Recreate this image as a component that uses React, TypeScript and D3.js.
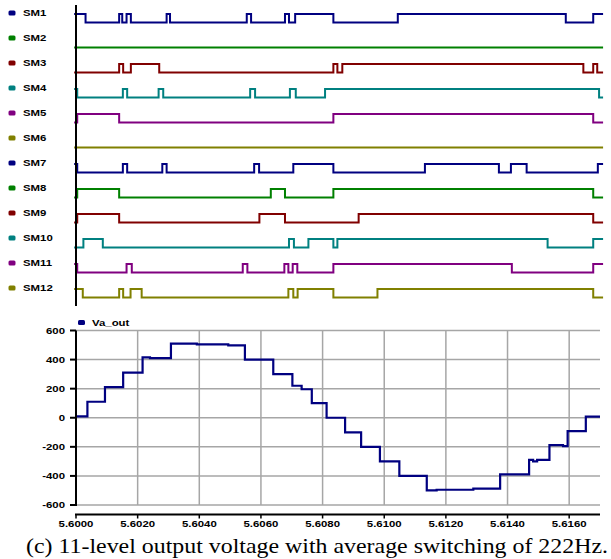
import * as d3 from 'd3'
import React from 'react'

// switching states of the 12 sub-modules: initial level and toggle instants (s)
const smNames = ['SM1', 'SM2', 'SM3', 'SM4', 'SM5', 'SM6', 'SM7', 'SM8', 'SM9', 'SM10', 'SM11', 'SM12']
const smInit = [1, 0, 0, 1, 0, 0, 1, 0, 0, 0, 1, 1]
const smEdges: number[][] = [
  [5.60031, 5.6014, 5.6015, 5.60164, 5.60178, 5.60294, 5.60305, 5.60554, 5.60568, 5.60678, 5.60691, 5.60711, 5.60835, 5.61044, 5.61589, 5.61678],
  [],
  [5.6014, 5.60153, 5.60178, 5.6027, 5.60835, 5.60848, 5.60864, 5.61646, 5.61678, 5.61691],
  [5.60004, 5.60152, 5.60166, 5.60268, 5.60283, 5.60565, 5.60581, 5.60694, 5.60713, 5.60808, 5.61697],
  [5.60004, 5.6014, 5.60835, 5.61678],
  [],
  [5.60004, 5.60152, 5.60166, 5.6028, 5.60294, 5.60578, 5.60594, 5.60705, 5.60835, 5.61132, 5.61372, 5.61411, 5.61462, 5.61693],
  [5.60004, 5.6014, 5.60632, 5.60678, 5.60835, 5.61678],
  [5.60004, 5.6014, 5.60595, 5.60678, 5.60917, 5.61678],
  [5.60024, 5.60087, 5.60691, 5.60707, 5.60754, 5.60835, 5.60848, 5.6153, 5.61678],
  [5.60004, 5.60164, 5.60181, 5.60541, 5.60556, 5.60676, 5.60689, 5.60703, 5.60718, 5.60835, 5.61414, 5.61678],
  [5.60022, 5.6014, 5.60153, 5.60177, 5.60213, 5.60689, 5.60705, 5.60719, 5.60835, 5.60978, 5.61678],
]
const smStart = 5.59994
const smEnd = 5.6171

// output voltage Va_out (step-after samples)
const vaTime = [5.6, 5.60037, 5.60094, 5.60153, 5.60216, 5.6024, 5.60308, 5.60392, 5.60494, 5.60548, 5.6064, 5.60702, 5.60732, 5.60765, 5.60813, 5.60873, 5.60925, 5.60986, 5.61049, 5.61138, 5.6117, 5.61289, 5.61376, 5.6147, 5.61483, 5.61496, 5.61536, 5.6158, 5.61595, 5.61654, 5.617]
const vaValue = [10, 110, 210, 310, 415, 410, 510, 505, 498, 400, 300, 220, 196, 100, 0, -100, -200, -300, -400, -500, -495, -488, -390, -290, -300, -290, -188, -195, -92, 8, 8]

const xTicks = [5.6, 5.602, 5.604, 5.606, 5.608, 5.61, 5.612, 5.614, 5.616]
const yTicks = [600, 400, 200, 0, -200, -400, -600]

const palette = ['#000080', '#008000', '#800000', '#008080', '#800080', '#808000']
const caption = '(c) 11-level output voltage with average switching of 222Hz.'

const W = 611
const H = 559
const FONT = '"Liberation Sans", Arial, sans-serif'

const Label = ({x, y, anchor = 'start', children}: {x: number; y: number; anchor?: string; children: React.ReactNode}) => (
  <text transform={`translate(${x},${y}) scale(1.2,1)`} textAnchor={anchor} dominantBaseline="central"
    fontFamily={FONT} fontWeight="bold" fontSize={9.5} fill="#000">{children}</text>
)

export default function App() {
  const x = d3.scaleLinear().domain([5.6, 5.617]).range([76, 600])

  // digital traces
  const row = d3.scalePoint<string>().domain(smNames).range([22.5, 297.5])
  const level = d3.scaleLinear().domain([0, 1]).range([0, -8.5])

  const traces = smNames.map((name, i) => {
    const pts: [number, number][] = [[smStart, smInit[i]]]
    let v = smInit[i]
    smEdges[i].forEach(t => { v = 1 - v; pts.push([t, v]) })
    pts.push([smEnd, v])
    const base = row(name)!
    const line = d3.line<[number, number]>()
      .x(d => x(d[0]))
      .y(d => base + level(d[1]))
      .curve(d3.curveStepAfter)
    return {name, d: line(pts)!, color: palette[i % 6], y: base + level(1) - 1}
  })

  // Va_out panel
  const y = d3.scaleLinear().domain([-600, 600]).range([505, 330.5])
  const axisY = 514.5
  const va = vaTime.map((t, i) => [t, vaValue[i]] as [number, number])
  const vaPath = d3.line<[number, number]>()
    .x(d => x(d[0]))
    .y(d => y(d[1]))
    .curve(d3.curveStepAfter)(va)!

  return (
    <svg width={W} height={H} style={{position: 'absolute', left: 0, top: 0, background: '#fff'}}>
      {/* top: switching signals */}
      {traces.map(tr => (
        <g key={tr.name}>
          <rect x={8.5} y={tr.y - 2.5} width={7} height={5} rx={1.5} fill={tr.color} />
          <Label x={23} y={tr.y}>{tr.name}</Label>
          <path d={tr.d} fill="none" stroke={tr.color} strokeWidth={2} />
        </g>
      ))}
      <line x1={76} x2={76} y1={5} y2={306} stroke="#000" strokeWidth={2} />

      {/* bottom: Va_out */}
      {xTicks.map(t => (
        <line key={'gx' + t} x1={x(t)} x2={x(t)} y1={y(600)} y2={y(-600)} stroke="#a6a6a6" strokeWidth={1.5} />
      ))}
      {yTicks.map(v => (
        <line key={'gy' + v} x1={76} x2={x(5.617)} y1={y(v)} y2={y(v)} stroke="#a6a6a6" strokeWidth={1.5} />
      ))}
      <path d={vaPath} fill="none" stroke="#000080" strokeWidth={2.2} />

      <line x1={76} x2={76} y1={y(600)} y2={y(-600) + 1} stroke="#000" strokeWidth={2} />
      {yTicks.map(v => (
        <g key={'ty' + v}>
          <line x1={70} x2={76} y1={y(v)} y2={y(v)} stroke="#000" strokeWidth={2} />
          <Label x={65} y={y(v)} anchor="end">{v}</Label>
        </g>
      ))}
      <line x1={75} x2={x(5.617)} y1={axisY} y2={axisY} stroke="#000" strokeWidth={2} />
      {xTicks.map(t => (
        <g key={'tx' + t}>
          <line x1={x(t)} x2={x(t)} y1={axisY} y2={axisY + 4} stroke="#000" strokeWidth={1.5} />
          <Label x={x(t)} y={axisY + 9} anchor="middle">{d3.format('.4f')(t)}</Label>
        </g>
      ))}

      <rect x={78} y={320} width={7} height={5} rx={1.5} fill="#000080" />
      <Label x={92} y={322.5}>Va_out</Label>

      <text x={26} y={553} fontFamily='"Liberation Serif", "Times New Roman", serif' fontSize={22}
        textLength={582} lengthAdjust="spacingAndGlyphs" fill="#000">{caption}</text>
    </svg>
  )
}
